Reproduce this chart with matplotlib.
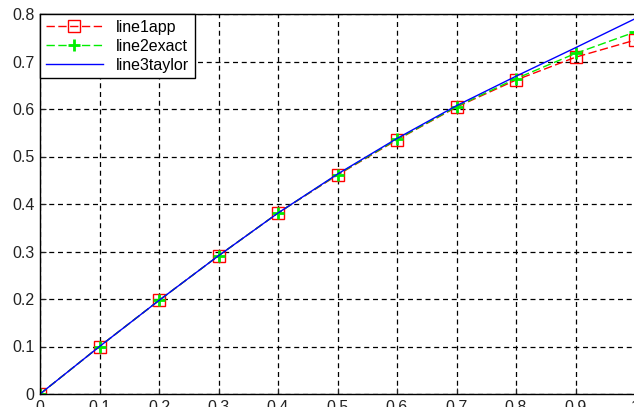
import matplotlib
matplotlib.use("Agg")
import matplotlib.pyplot as plt

x = [0.0, 0.1, 0.2, 0.3, 0.4, 0.5, 0.6, 0.7, 0.8, 0.9, 1.0]
line1app = [0.0, 0.100, 0.197, 0.291, 0.381, 0.461, 0.535, 0.604, 0.661, 0.709, 0.745]
line2exact = [0.0, 0.100, 0.197, 0.291, 0.381, 0.462, 0.536, 0.605, 0.664, 0.717, 0.762]
line3taylor = [0.0, 0.100, 0.197, 0.291, 0.381, 0.463, 0.538, 0.607, 0.669, 0.729, 0.790]
xticks = [0, 0.1, 0.2, 0.3, 0.4, 0.5, 0.6, 0.7, 0.8, 0.9, 1]
xticklabels = ["0", "0.1", "0.2", "0.3", "0.4", "0.5", "0.6", "0.7", "0.8", "0.9", "1"]
yticks = [0, 0.1, 0.2, 0.3, 0.4, 0.5, 0.6, 0.7, 0.8]
yticklabels = ["0", "0.1", "0.2", "0.3", "0.4", "0.5", "0.6", "0.7", "0.8"]

plt.rcParams['font.family'] = ['Liberation Sans', 'DejaVu Sans']
W, H = 634, 407
fig = plt.figure(figsize=(W / 100, H / 100), dpi=100)
left, right, top, bottom = 40, 635, 14, 394
ax = fig.add_axes([left / W, (H - bottom) / H, (right - left) / W, (bottom - top) / H])

ax.plot(x, line1app, color='red', linestyle=(0, (6, 2.5)), linewidth=1,
        marker='s', markersize=8, markerfacecolor='none', markeredgecolor='red',
        markeredgewidth=1, label='line1app')
ax.plot(x, line2exact, color='#00ee00', linestyle=(0, (6, 2.5)), linewidth=1,
        marker='+', markersize=8, markeredgewidth=2, markerfacecolor='#00ee00',
        markeredgecolor='#00ee00', label='line2exact')
ax.plot(x, line3taylor, color='blue', linestyle='-', linewidth=1, label='line3taylor')

ax.set_xlim(0, 1)
ax.set_ylim(0, 0.8)
ax.set_xticks(xticks)
ax.set_xticklabels(xticklabels)
ax.set_yticks(yticks)
ax.set_yticklabels(yticklabels)
ax.tick_params(direction='in', length=4, labelsize=11.5, colors='#222222', pad=4)
ax.grid(True, color='black', linestyle=(0, (4, 3)), linewidth=0.9)
for s in ax.spines.values():
    s.set_linewidth(1)
    s.set_color('black')

leg = ax.legend(loc='upper left', fontsize=11.5, frameon=True, fancybox=False,
                edgecolor='black', framealpha=1, borderaxespad=0,
                handlelength=3.6, borderpad=0.35, labelspacing=0.25)
leg.get_frame().set_linewidth(1)

fig.savefig('out.png', dpi=100)
